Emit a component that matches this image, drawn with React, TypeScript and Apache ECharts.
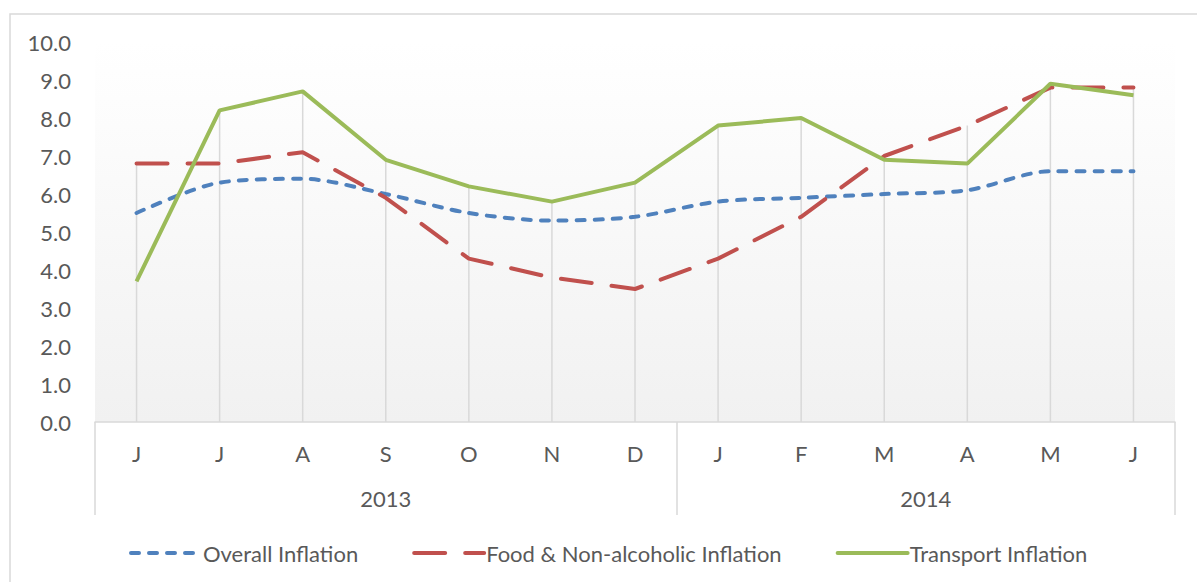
import React, { useEffect, useRef } from "react";
import * as echarts from "echarts";

const months = ["J", "J", "A", "S", "O", "N", "D", "J", "F", "M", "A", "M", "J"];
const years = ["2013", "2014"];
const yearStarts = [0, 7, 13];
const overall = [5.5, 6.3, 6.4, 6.0, 5.5, 5.3, 5.4, 5.8, 5.9, 6.0, 6.1, 6.6, 6.6];
const food = [6.8, 6.8, 7.1, 5.9, 4.3, 3.8, 3.5, 4.3, 5.4, 7.0, 7.8, 8.8, 8.8];
const transport = [3.7, 8.2, 8.7, 6.9, 6.2, 5.8, 6.3, 7.8, 8.0, 6.9, 6.8, 8.9, 8.6];

const FONT = "Lato";
const TEXT = "#595959";
const GRIDC = "#d9d9d9";

export default function App() {
  const ref = useRef<HTMLDivElement>(null);
  useEffect(() => {
    if (!ref.current) return;
    const chart = echarts.init(ref.current, null, { renderer: "svg" });
    const drops = months.map((_, i) => [i, Math.max(overall[i], food[i], transport[i])]);
    const yearCenters = [
      (yearStarts[0] + yearStarts[1]) / 2,
      (yearStarts[1] + yearStarts[2]) / 2,
    ];
    chart.setOption({
      animation: false,
      textStyle: { fontFamily: FONT },
      graphic: [
        {
          type: "rect",
          shape: { x: 10, y: 14, width: 1200, height: 600 },
          style: { fill: "none", stroke: GRIDC, lineWidth: 1.5 },
          silent: true,
          z: -10,
        },
      ],
      grid: {
        left: 95,
        right: 22,
        top: 42,
        bottom: 160,
        show: true,
        borderWidth: 0,
        backgroundColor: new echarts.graphic.LinearGradient(0, 0, 0, 1, [
          { offset: 0, color: "#ffffff" },
          { offset: 0.15, color: "#fdfdfd" },
          { offset: 1, color: "#f1f1f1" },
        ]),
      },
      legend: {
        data: ["Overall Inflation", "Food & Non-alcoholic Inflation", "Transport Inflation"],
        top: 537,
        left: 124,
        itemWidth: 70,
        itemHeight: 14,
        itemGap: 54,
        itemStyle: { opacity: 0 },
        lineStyle: { width: 4, cap: "round" },
        textStyle: { fontFamily: FONT, fontSize: 22, color: TEXT, padding: [0, 0, 0, -3] },
      },
      xAxis: [
        {
          type: "category",
          data: months,
          position: "bottom",
          boundaryGap: true,
          axisLine: { show: false },
          axisTick: { show: false },
          splitLine: { show: false },
          axisLabel: { color: TEXT, fontSize: 22, fontFamily: FONT, margin: 20, interval: 0 },
        },
        {
          type: "value",
          min: 0,
          max: 13,
          position: "bottom",
          axisLine: { show: true, lineStyle: { color: GRIDC, width: 1.5 } },
          axisTick: {
            show: true,
            customValues: yearStarts,
            length: 93,
            lineStyle: { color: GRIDC, width: 1.5 },
          },
          splitLine: { show: false },
          axisLabel: {
            customValues: yearCenters,
            formatter: (v: number) => (v < yearStarts[1] ? years[0] : years[1]),
            color: TEXT,
            fontSize: 22,
            fontFamily: FONT,
            margin: 65,
          },
        },
      ],
      yAxis: {
        type: "value",
        min: 0,
        max: 10,
        interval: 1,
        axisLine: { show: false },
        axisTick: { show: false },
        splitLine: { show: false },
        axisLabel: {
          color: TEXT,
          fontSize: 22,
          fontFamily: FONT,
          margin: 24,
          formatter: (v: number) => v.toFixed(1),
        },
      },
      series: [
        {
          type: "custom",
          name: "drops",
          xAxisIndex: 0,
          data: drops,
          z: 1,
          silent: true,
          renderItem: (params: any, api: any) => {
            const top = api.coord([api.value(0), api.value(1)]);
            const bot = api.coord([api.value(0), 0]);
            return {
              type: "line",
              shape: { x1: top[0], y1: top[1], x2: bot[0], y2: bot[1] },
              style: { stroke: GRIDC, lineWidth: 1.5 },
            };
          },
        },
        {
          type: "line",
          name: "Overall Inflation",
          data: overall,
          xAxisIndex: 0,
          symbol: "none",
          smooth: 0.3,
          z: 3,
          itemStyle: { color: "#4f81bd" },
          lineStyle: { color: "#4f81bd", width: 4, type: [8, 10], cap: "round" },
        },
        {
          type: "line",
          name: "Food & Non-alcoholic Inflation",
          data: food,
          xAxisIndex: 0,
          symbol: "none",
          z: 4,
          itemStyle: { color: "#c0504d" },
          lineStyle: { color: "#c0504d", width: 4, type: [31, 20], cap: "round" },
        },
        {
          type: "line",
          name: "Transport Inflation",
          data: transport,
          xAxisIndex: 0,
          symbol: "none",
          z: 5,
          itemStyle: { color: "#9bbb59" },
          lineStyle: { color: "#9bbb59", width: 4 },
        },
      ],
    });
    return () => chart.dispose();
  }, []);
  return (
    <div
      ref={ref}
      style={{ position: "absolute", left: 0, top: 0, width: 1197, height: 582, background: "#fff" }}
    />
  );
}
